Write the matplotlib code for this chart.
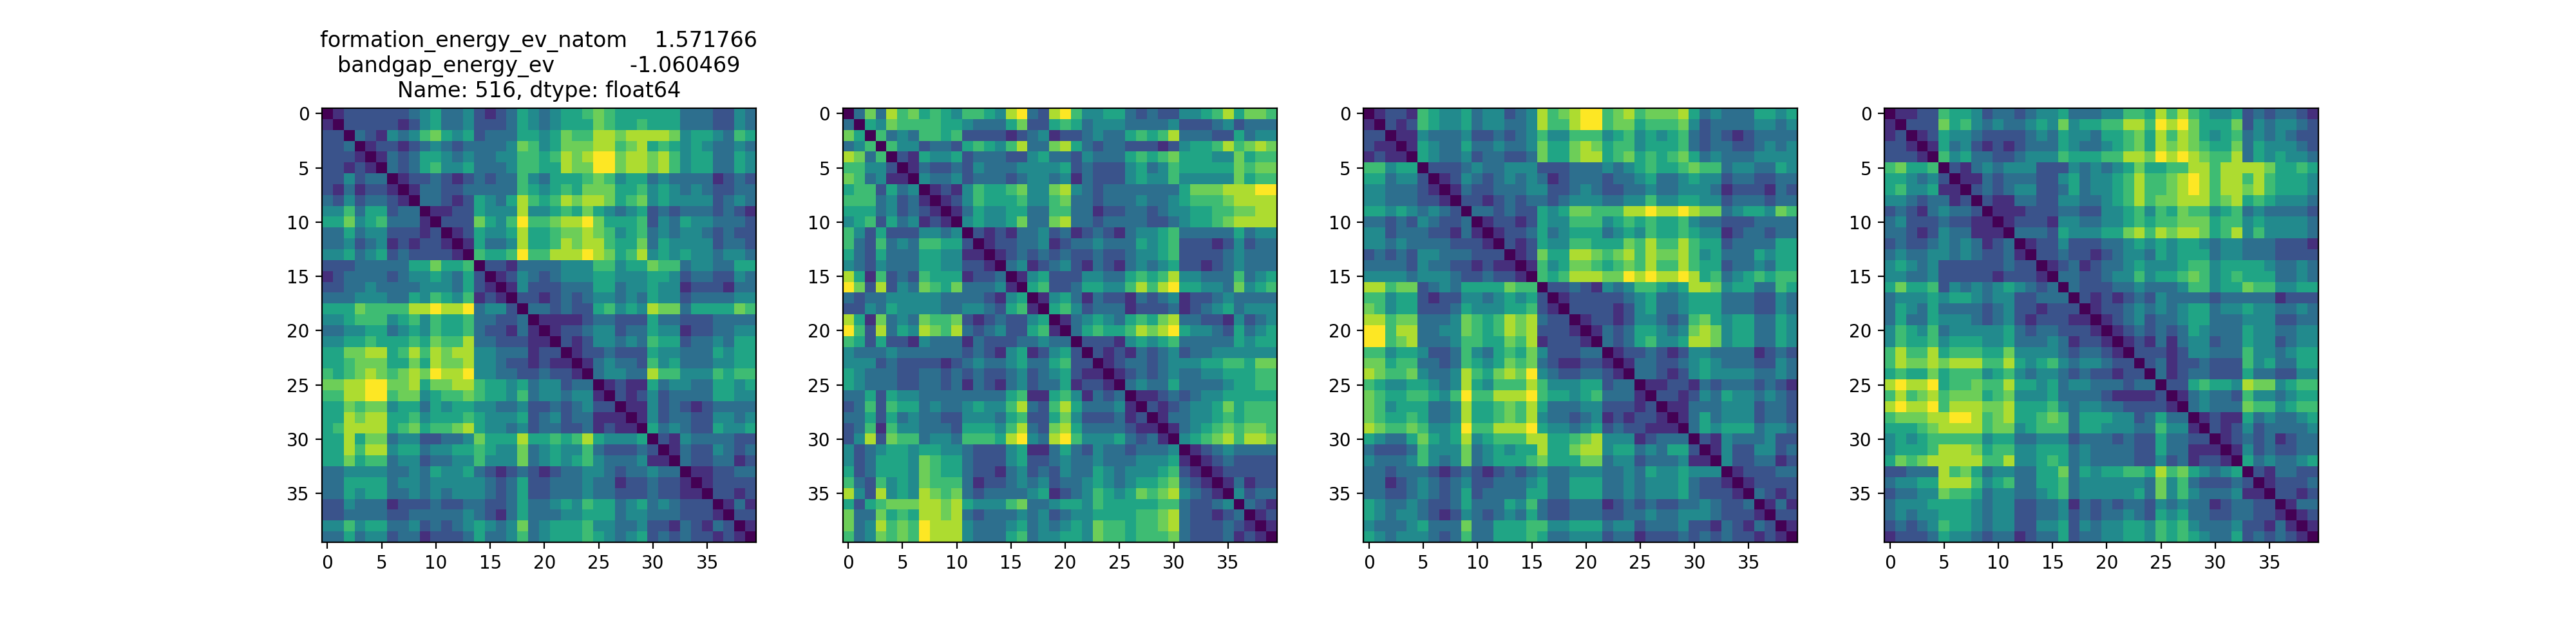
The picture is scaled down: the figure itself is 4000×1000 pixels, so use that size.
import numpy as np
import matplotlib
matplotlib.use('Agg')
import matplotlib.pyplot as plt

# upper triangle of each matrix, one string per row, starts right after the diagonal
# digits are colour levels 0-9, spaces only line up with every 5th column
upper_1 = [
    "1222 22234 53342 12354 34556 76555 55533 32243",
    "222 22124 53342 22354 34555 76556 55533 32243",
    "32 14346 75452 33355 45766 88788 88745 54365",
    "1 22123 43233 33476 45777 88678 56545 43343",
    "13235 54343 34466 56878 99788 78645 53354",
    "3235 64453 33466 55877 99788 78645 53354",
    "122 32123 23364 35556 76455 34333 31232",
    "13 32233 33365 45657 77556 45434 32233",
    "3 32125 43586 56878 87567 45444 42343",
    "11225 44484 45657 54345 23233 32321",
    "2227 54696 67889 75556 24354 43332",
    "125 44585 56778 76456 34344 32322",
    "15 33485 56878 86557 35444 42332",
    "6 55696 68889 87568 45454 43443",
    "22133 33444 66455 76634 43355",
    "1243 23444 55444 55423 32243",
    "142 22333 55344 54412 22133",
    "22 12323 44343 54423 33344",
    "3 32322 56454 87735 55576",
    "11112 33222 53322 23333",
    "1223 44233 54412 23344",
    "212 44343 65523 34355",
    "12 23222 54433 35455",
    "1 34332 64533 34455",
    "34433 86644 46566",
    "1211 53443 35545",
    "212 42333 35544",
    "11 42321 23333",
    "1 42332 24434",
    "53432 25445",
    "2143 33322",
    "132 24323",
    "32 23312",
    "1 12233",
    "12222",
    "2212",
    "131",
    "22",
    "1",
]

upper_2 = [
    "3738 67565 46654 89328 96445 53232 24456 85776",
    "547 66665 54333 57225 65344 43333 42223 42333",
    "63 43665 62222 12341 22343 35656 83332 25344",
    "6 44233 25654 68337 85323 32221 24556 86787",
    "21544 52333 22453 32433 35656 75554 47566",
    "1322 32433 34444 52322 24534 65555 57677",
    "433 42333 23443 41322 24544 64444 47566",
    "12 14655 67447 84323 33333 35777 88899",
    "1 24655 56446 73323 33433 45666 78888",
    "13544 55336 63312 23323 44556 67788",
    "4544 57337 83323 33322 34556 78888",
    "212 13342 31232 13445 63333 35344",
    "12 23341 23343 33545 62221 24233",
    "1 23232 32232 23445 62222 34333",
    "34123 42132 13434 52212 34333",
    "1452 22443 35656 84433 36345",
    "562 23554 46868 95544 37456",
    "14 53132 21323 41223 43333",
    "5 64233 31222 31234 53444",
    "13454 35657 83322 14234",
    "3565 56878 95443 25345",
    "222 14545 63333 35455",
    "21 21323 42334 44444",
    "1 23323 44455 66577",
    "12323 43344 55566",
    "3433 53333 45566",
    "112 32344 55555",
    "21 23445 75666",
    "1 33445 65666",
    "13456 76776",
    "4567 86887",
    "123 43333",
    "12 32222",
    "1 22222",
    "13122",
    "4233",
    "321",
    "12",
    "1",
]

upper_3 = [
    "1221 65445 34423 48678 99678 67778 53433 35545",
    "212 65445 34433 48668 99677 56667 42333 34434",
    "11 43334 22323 46446 66456 45456 32321 23333",
    "1 54335 33433 47557 87566 45556 32332 23434",
    "54334 23322 37557 88567 56567 53433 34444",
    "2223 43344 42223 33434 56556 76634 43354",
    "124 32343 43123 33233 45334 54423 32233",
    "13 22333 44223 43223 34334 44312 22132",
    "2 21232 33234 44334 46445 54423 33233",
    "33232 25457 76668 89889 87734 55476",
    "1221 25446 66456 56556 43322 23333",
    "122 35345 55345 46556 54412 33233",
    "21 25446 65557 68668 65523 33355",
    "1 27558 87678 68778 64533 35455",
    "16457 76567 68668 65523 34355",
    "6568 88779 89889 85634 56566",
    "223 21434 66545 88745 53365",
    "12 22223 45334 55533 32243",
    "2 22212 45334 55533 32243",
    "12212 44323 67545 53354",
    "1323 55434 78745 53354",
    "323 56445 88745 53354",
    "12 23212 44333 31232",
    "1 33223 45433 32243",
    "33212 45444 43343",
    "1122 13233 32321",
    "221 24354 43432",
    "11 33344 42332",
    "1 35344 42332",
    "35455 53443",
    "2143 33422",
    "142 24423",
    "42 23312",
    "1 22233",
    "12222",
    "3212",
    "131",
    "22",
    "1",
]

upper_4 = [
    "1122 65542 33234 45333 44665 86865 44523 23321",
    "222 75643 43345 47455 66886 98975 55724 34432",
    "12 54432 22234 35443 55675 86875 45634 34322",
    "1 53421 21233 35433 45675 87876 55735 44432",
    "64533 22344 46555 66887 98987 66835 45443",
    "2134 34442 22434 34575 56688 68888 75565",
    "113 23332 24534 45686 67898 68868 65554",
    "23 23442 23534 45686 67898 68878 65554",
    "2 11332 24433 45686 77888 67856 54443",
    "11122 23322 44564 65766 45634 33332",
    "1222 14433 44565 66777 56645 44443",
    "333 25444 55786 87887 56846 44443",
    "12 24222 33454 54554 34433 32221",
    "2 23221 23443 54555 34433 32222",
    "12312 33454 44566 45555 43343",
    "3322 34464 55676 45655 53343",
    "322 23343 33466 45576 64455",
    "21 21232 43333 23333 31222",
    "1 22343 43455 34454 43343",
    "12342 33455 33344 42233",
    "1232 32354 33354 43344",
    "121 31344 23354 42344",
    "22 21244 33364 43455",
    "2 31223 22264 53355",
    "31233 22253 32244",
    "2256 55487 74566",
    "134 33264 43455",
    "34 33376 64566",
    "1 21153 43345",
    "21242 33334",
    "1232 31233",
    "142 32233",
    "53 43345",
    "2 13322",
    "12223",
    "2212",
    "133",
    "12",
    "1",
]

# value that each digit stands for, read against the reference colours
level_values = [0, 1.2, 2.3, 3.3, 4.3, 5.3, 6.2, 7.0, 7.9, 9]

titles = ["formation_energy_ev_natom    1.571766\n"
          "bandgap_energy_ev           -1.060469\n"
          "Name: 516, dtype: float64", "", "", ""]


def to_matrix(rows):
    m = np.zeros((40, 40))
    for i, row in enumerate(rows):
        vals = [level_values[int(c)] for c in row.replace(' ', '')]
        assert len(vals) == 39 - i, (i, len(vals))
        m[i, i + 1:] = vals
        m[i + 1:, i] = vals
    return m


fig, axes = plt.subplots(1, 4, figsize=(20, 5))
for ax, rows, title in zip(axes, [upper_1, upper_2, upper_3, upper_4], titles):
    ax.imshow(to_matrix(rows), vmin=0, vmax=9)
    if title:
        ax.set_title(title)

fig.savefig('out.png', dpi=200)
